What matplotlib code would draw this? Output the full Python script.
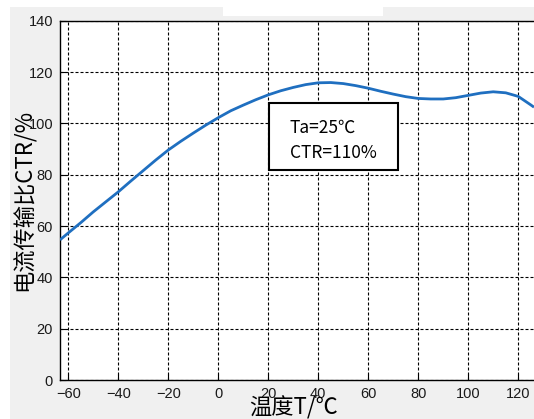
import matplotlib
matplotlib.use("Agg")
import matplotlib.pyplot as plt
from matplotlib.patches import Rectangle

# 温度 (℃) 与电流传输比 CTR (%)
temp = [-63.3, -60, -55, -50, -45, -40, -35, -30, -25, -20, -15, -10, -5, 0,
        5, 10, 15, 20, 25, 30, 35, 40, 45, 50, 55, 60, 65, 70, 75, 80, 85, 90,
        95, 100, 105, 110, 115, 120, 125, 126.3]
ctr = [54.6, 57.3, 61.3, 65.5, 69.4, 73.3, 77.5, 81.6, 85.7, 89.6, 93.0, 96.2,
       99.3, 102.2, 104.9, 107.1, 109.2, 111.1, 112.7, 114.0, 115.1, 115.8,
       115.9, 115.5, 114.7, 113.7, 112.5, 111.4, 110.4, 109.7, 109.5, 109.5,
       110.0, 110.9, 111.8, 112.3, 111.9, 110.5, 107.2, 106.3]

xticks = [-60, -40, -20, 0, 20, 40, 60, 80, 100, 120]
yticks = [0, 20, 40, 60, 80, 100, 120, 140]
note_lines = ["Ta=25℃", "CTR=110%"]

W, H = 534, 419
fig = plt.figure(figsize=(W / 100, H / 100), dpi=100, facecolor="#f0f0f0")


def px_rect(x0, y0, x1, y1, color):
    # 以像素坐标（左上为原点）画背景块
    fig.patches.append(Rectangle((x0 / W, 1 - y1 / H), (x1 - x0) / W, (y1 - y0) / H,
                                 transform=fig.transFigure, facecolor=color,
                                 edgecolor="none", zorder=-10))


px_rect(0, 0, 10, H, "white")
px_rect(0, 0, W, 7, "white")
px_rect(223, 7, 383, 15.7, "white")

ax = fig.add_axes([60 / W, (H - 380) / H, 1 - 60 / W, (380 - 20.7) / H])
ax.set_facecolor("white")

ax.plot(temp, ctr, color="#1f6fc0", lw=2.0, solid_capstyle="butt", zorder=3)

ax.set_xlim(-63.3, 126.3)
ax.set_ylim(0, 140)
ax.set_xticks(xticks)
ax.set_yticks(yticks)
ax.tick_params(direction="in", length=4, width=0.8, labelsize=10.5, pad=5,
               labelcolor="#1a1a1a")
for lab in ax.get_xticklabels() + ax.get_yticklabels():
    lab.set_family("Liberation Sans")

ax.grid(True, color="black", lw=0.8, linestyle=(0, (2.7, 1.8)))
for s in ["left", "bottom", "top"]:
    ax.spines[s].set_linewidth(1.0)
ax.spines["right"].set_visible(False)

# 标注框
ax.add_patch(Rectangle((20.3, 81.9), 51.5, 26.1, facecolor="white",
                       edgecolor="black", lw=1.5, zorder=4))
ax.text(28.7, 98.3, note_lines[0], fontsize=12.5, va="center", ha="left",
        family=["Noto Sans CJK SC", "DejaVu Sans"], zorder=5)
ax.text(28.7, 88.5, note_lines[1], fontsize=12.5, va="center", ha="left",
        family=["Noto Sans CJK SC", "DejaVu Sans"], zorder=5)

fig.text(24 / W, 1 - 200 / H, "电流传输比CTR/%", rotation=90, fontsize=16,
         ha="center", va="center", family=["Noto Sans CJK SC", "DejaVu Sans"])
fig.text(294 / W, 1 - 408 / H, "温度T/℃", fontsize=16, ha="center",
         va="center", family=["Noto Sans CJK SC", "DejaVu Sans"])

fig.savefig("out.png", dpi=100, facecolor=fig.get_facecolor())
